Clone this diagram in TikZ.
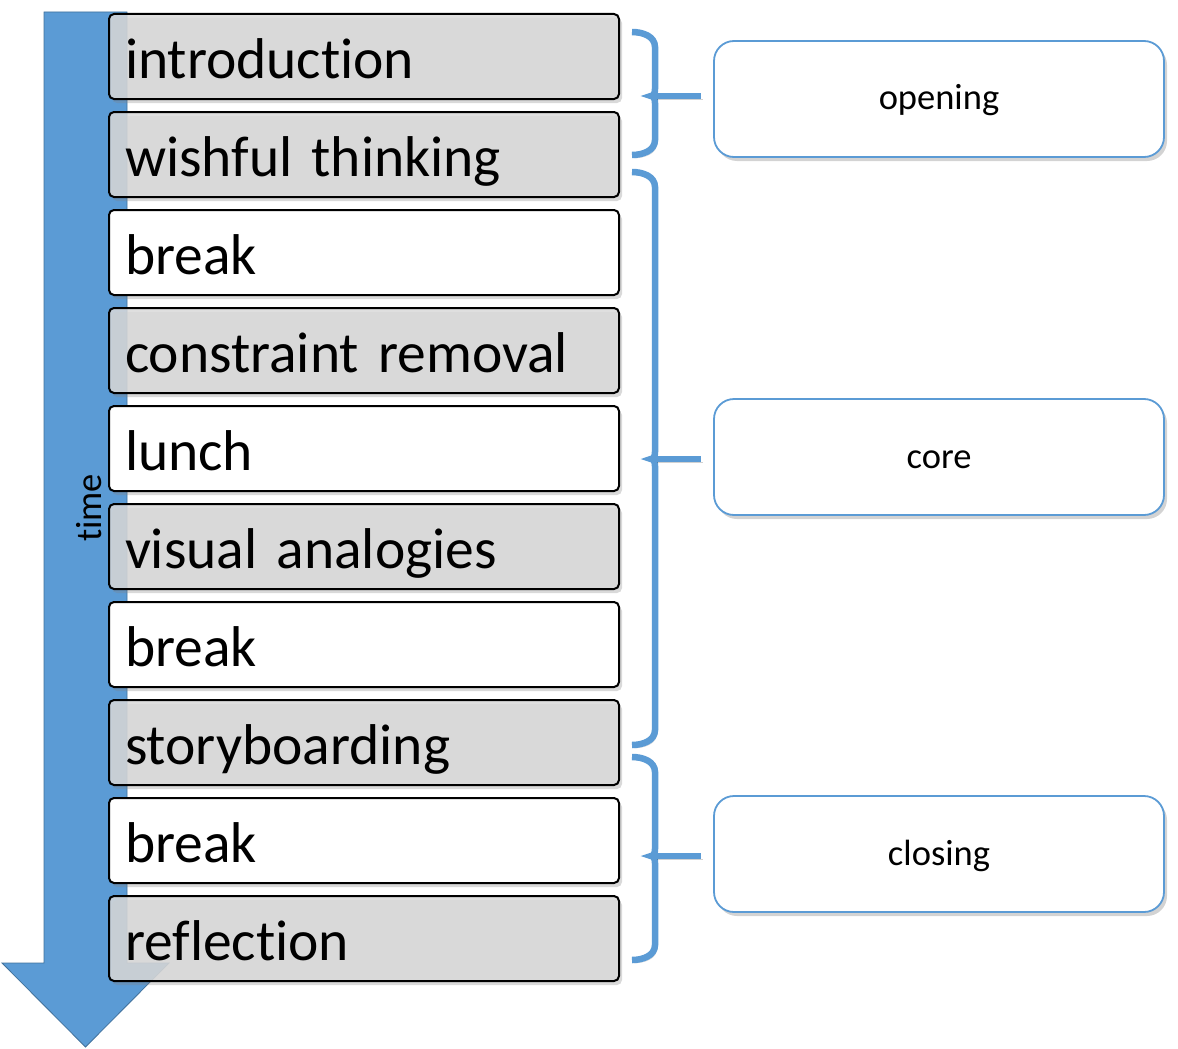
\documentclass[tikz,border=0pt]{standalone}
\usepackage{fontspec}
\setmainfont{Carlito}[Ligatures={NoCommon,NoRare}]
\usetikzlibrary{shadows}

\definecolor{accent}{HTML}{5B9BD5}
\definecolor{accentdark}{HTML}{41719C}
\definecolor{slot}{HTML}{D9D9D9}

\begin{document}
\begin{tikzpicture}[x=1pt,y=-1pt,
 slotbox/.style={draw,line width=2pt,rounded corners=5pt,anchor=north west,
  minimum width=510pt,minimum height=85pt,text width=478pt,align=left,
  text height=44pt,text depth=0pt,text opacity=1,
  font=\fontsize{57.5}{60}\selectfont,
  drop shadow={shadow xshift=3pt,shadow yshift=-4pt,opacity=0.3}},
 phase/.style={draw=accent,line width=1.8pt,rounded corners=20pt,fill=white,
  minimum width=450pt,minimum height=116pt,
  text height=22pt,text depth=0pt,font=\fontsize{36.5}{40}\selectfont,
  drop shadow={shadow xshift=3pt,shadow yshift=-4pt,opacity=0.35}},
 brace/.style={draw=accent,line width=6.5pt,
  preaction={draw=black,opacity=0.18,transform canvas={xshift=2pt,yshift=-3pt}}}]

\useasboundingbox (0,0) rectangle (1178,1049);

% time arrow
\draw[accentdark,fill=accent,line width=0.8pt] (44,12) -- (127,12) -- (127,963)
  -- (169,963) -- (85.5,1047) -- (2,963) -- (44,963) -- cycle;
\node[rotate=90,font=\fontsize{36.5}{40}\selectfont] (time) at (89,508) {time};

% agenda
\foreach \txt/\col/\op [count=\i] in {introduction/slot/0.85,
  wishful thinking/slot/0.85, break/white/1, constraint removal/slot/0.85,
  lunch/white/1, visual analogies/slot/0.85, break/white/1,
  storyboarding/slot/0.85, break/white/1, reflection/slot/0.85}
 \node[slotbox,fill=\col,fill opacity=\op] (b\i) at (108,{13+98*(\i-1)}) {\txt};

% phases
\node[phase] (opening) at (939,99) {opening};
\node[phase] (core) at (939,457) {core};
\node[phase] (closing) at (939,854) {closing};

\newcommand{\phasebrace}[4] % [top][middle][bottom][phase]
{
 \draw[brace] (632,#1) to[out=0,in=90] (655,{#1+15}) -- (655,{#2-7})
   to[out=-90,in=0] (651,#2) to[out=0,in=90] (655,{#2+7})
   -- (655,{#3-15}) to[out=-90,in=0] (632,#3);
 \draw[brace,shorten >=12pt] (655,#2) -- (#4.west |- 0,#2);
}

\phasebrace{32}{96}{155}{opening}
\phasebrace{172}{459}{745}{core}
\phasebrace{757}{856}{960}{closing}

\end{tikzpicture}
\end{document}
